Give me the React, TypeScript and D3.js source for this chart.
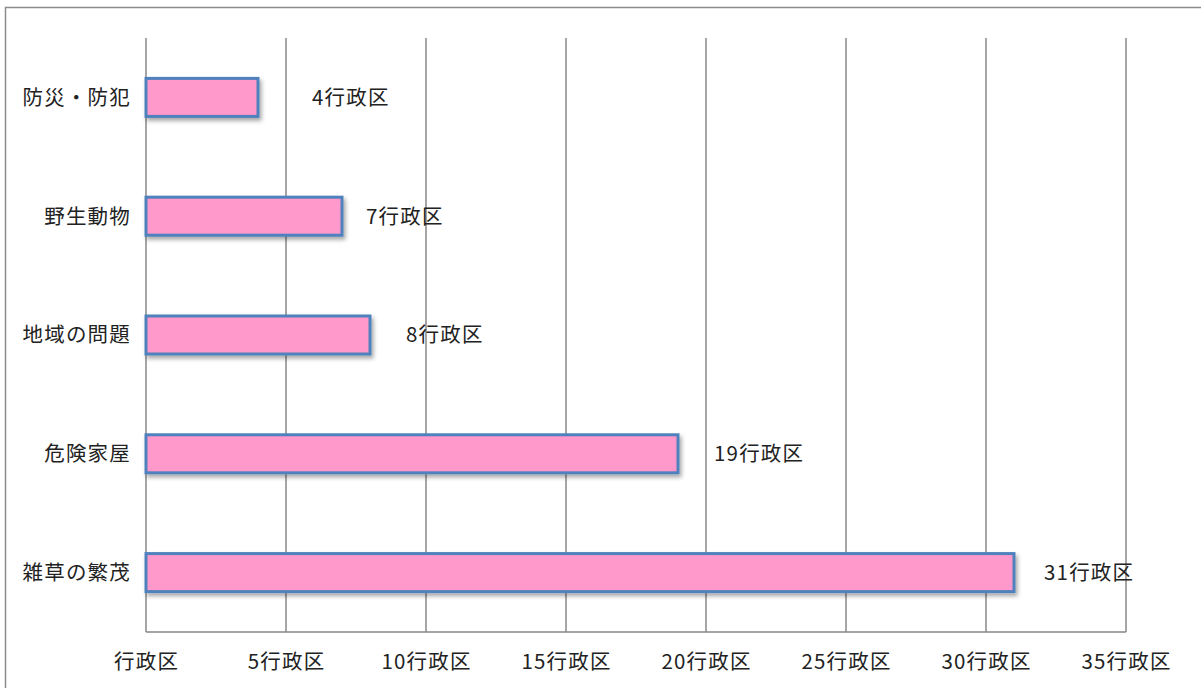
import React from "react";
import * as d3 from "d3";

const categories = ["防災・防犯", "野生動物", "地域の問題", "危険家屋", "雑草の繁茂"];
const values = [4, 7, 8, 19, 31];
const valueLabels = ["4行政区", "7行政区", "8行政区", "19行政区", "31行政区"];
const tickValues = [0, 5, 10, 15, 20, 25, 30, 35];
const tickLabels = ["行政区", "5行政区", "10行政区", "15行政区", "20行政区", "25行政区", "30行政区", "35行政区"];

// label offsets from bar end (px), as placed in the original
const labelDx = [54, 24, 36, 36, 30];

const W = 1201;
const H = 688;
const FONT = "'Noto Sans CJK JP', 'Noto Sans', sans-serif";
const FS = 20.5;
const LS = 1.2;

export default function App() {
  const x = d3.scaleLinear().domain([0, 35]).range([146, 1126]);
  const y = d3
    .scaleBand<string>()
    .domain(categories)
    .range([38, 632])
    .paddingInner(0.68)
    .paddingOuter(0.34);

  return (
    <svg
      width={W}
      height={H}
      style={{ position: "absolute", left: 0, top: 0, background: "#fff" }}
    >
      <defs>
        <filter id="shadow" x="-10%" y="-30%" width="130%" height="180%">
          <feDropShadow dx="2" dy="3" stdDeviation="2" floodColor="#000" floodOpacity="0.35" />
        </filter>
      </defs>
      <rect x={5.5} y={7.5} width={W + 10} height={H + 10} fill="#fff" stroke="#8c8c8c" strokeWidth={1.5} />
      {tickValues.map((t) => (
        <line
          key={"g" + t}
          x1={x(t)}
          x2={x(t)}
          y1={38}
          y2={632}
          stroke="#878787"
          strokeWidth={1.5}
        />
      ))}
      <line x1={x(0)} x2={x(35)} y1={632} y2={632} stroke="#878787" strokeWidth={1.5} />
      {tickValues.map((t, i) => (
        <text
          key={"t" + t}
          x={x(t) + LS / 2}
          y={669}
          textAnchor="middle"
          fontFamily={FONT}
          fontSize={FS}
          letterSpacing={LS}
          fill="#222"
        >
          {tickLabels[i]}
        </text>
      ))}
      {categories.map((c, i) => (
        <g key={c}>
          <rect
            x={x(0)}
            y={y(c)!}
            width={x(values[i]) - x(0)}
            height={y.bandwidth()}
            fill="#FF99CC"
            stroke="#4F81BD"
            strokeWidth={3}
            filter="url(#shadow)"
          />
          <text
            x={131}
            y={y(c)! + y.bandwidth() / 2}
            dy="0.36em"
            textAnchor="end"
            fontFamily={FONT}
            fontSize={FS}
            letterSpacing={LS}
            fill="#222"
          >
            {c}
          </text>
          <text
            x={x(values[i]) + labelDx[i]}
            y={y(c)! + y.bandwidth() / 2}
            dy="0.36em"
            textAnchor="start"
            fontFamily={FONT}
            fontSize={FS}
            letterSpacing={LS}
            fill="#222"
          >
            {valueLabels[i]}
          </text>
        </g>
      ))}
    </svg>
  );
}
